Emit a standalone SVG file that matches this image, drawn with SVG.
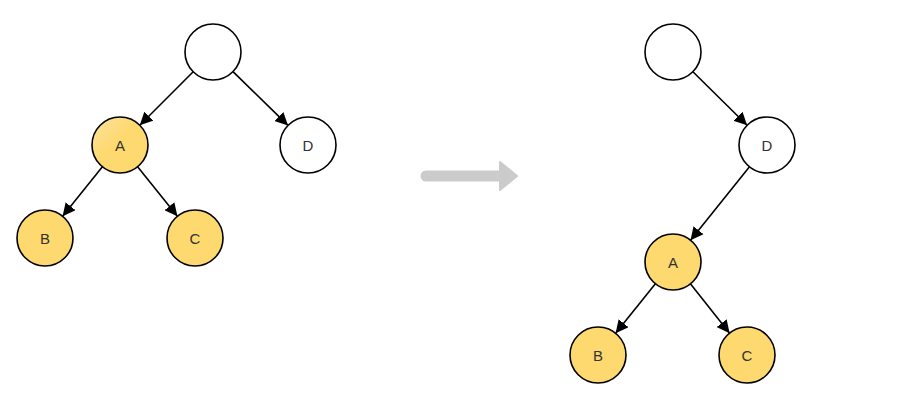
<svg xmlns="http://www.w3.org/2000/svg" width="906" height="405" viewBox="0 0 906 405">
<style>
.n{stroke:#000;stroke-width:1.6}
.w{fill:#fff}
.y{fill:#fdd96f}
.t{font-family:"Liberation Sans",Arial,sans-serif;font-size:15px;fill:#333;text-anchor:middle;dominant-baseline:central}
.e{stroke:#000;stroke-width:1.6;fill:none;marker-end:url(#ah)}
</style>
<defs>
<marker id="ah" viewBox="0 0 10 10" refX="10" refY="5" markerWidth="8" markerHeight="8" orient="auto" markerUnits="strokeWidth">
<path d="M0,0 L10,5 L0,10 z" fill="#000"/>
</marker>
<linearGradient id="g" x1="0" y1="0" x2="1" y2="1">
<stop offset="0" stop-color="#fee3a0"/>
<stop offset="0.45" stop-color="#fdd96f"/>
</linearGradient>
</defs>
<rect width="906" height="405" fill="#fff"/>
<g id="connectors">
<line class="e" x1="193.2" y1="71.8" x2="139.8" y2="125.2"/>
<line class="e" x1="233" y1="71.6" x2="288" y2="125.4"/>
<line class="e" x1="102.4" y1="166.8" x2="62.6" y2="216.2"/>
<line class="e" x1="137.6" y1="166.8" x2="177.4" y2="216.2"/>
<line class="e" x1="692.9" y1="71.7" x2="747.1" y2="125.3"/>
<line class="e" x1="749.5" y1="166.8" x2="690.5" y2="240.2"/>
<line class="e" x1="655.4" y1="283.8" x2="615.6" y2="333.2"/>
<line class="e" x1="690.4" y1="283.8" x2="729.6" y2="333.2"/>
</g>
<g id="transform-arrow">
<line x1="426" y1="176" x2="502" y2="176" stroke="#cbcbcb" stroke-width="11" stroke-linecap="round"/>
<path d="M500,162 L517,176 L500,190 z" fill="#cbcbcb" stroke="#cbcbcb" stroke-width="2" stroke-linejoin="round"/>
</g>
<g id="L-root"><circle class="n w" cx="213" cy="52" r="28"/></g>
<g id="L-A"><circle class="n" fill="url(#g)" cx="120" cy="145" r="28"/><text class="t" x="120" y="145">A</text></g>
<g id="L-D"><circle class="n w" cx="308" cy="145" r="28"/><text class="t" x="308" y="145">D</text></g>
<g id="L-B"><circle class="n y" cx="45" cy="238" r="28"/><text class="t" x="45" y="238">B</text></g>
<g id="L-C"><circle class="n y" cx="195" cy="238" r="28"/><text class="t" x="195" y="238">C</text></g>
<g id="R-root"><circle class="n w" cx="673" cy="52" r="28"/></g>
<g id="R-D"><circle class="n w" cx="767" cy="145" r="28"/><text class="t" x="767" y="145">D</text></g>
<g id="R-A"><circle class="n y" cx="673" cy="262" r="28"/><text class="t" x="673" y="262">A</text></g>
<g id="R-B"><circle class="n y" cx="598" cy="355" r="28"/><text class="t" x="598" y="355">B</text></g>
<g id="R-C"><circle class="n y" cx="747" cy="355" r="28"/><text class="t" x="747" y="355">C</text></g>
</svg>
